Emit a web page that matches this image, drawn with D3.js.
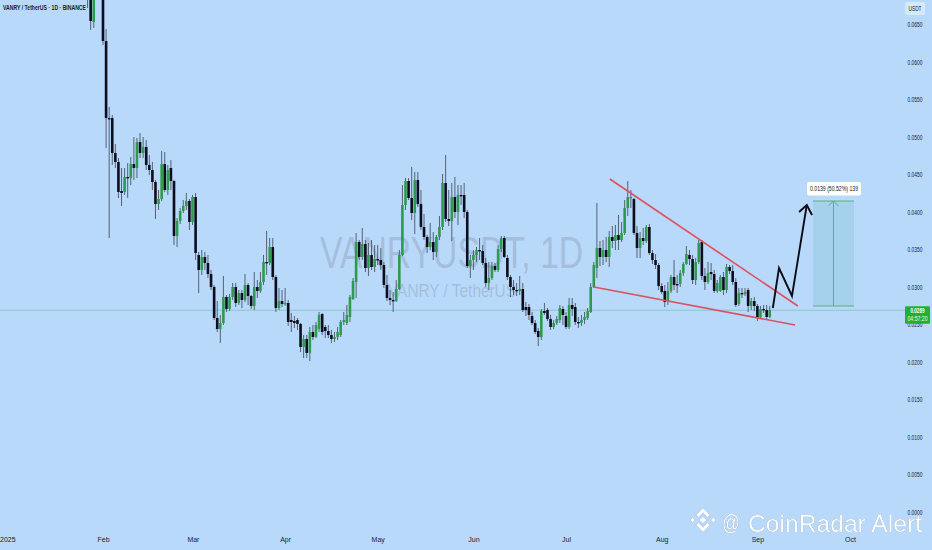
<!DOCTYPE html>
<html><head><meta charset="utf-8">
<script src="https://cdn.jsdelivr.net/npm/d3@7/dist/d3.min.js"></script>
<style>html,body{margin:0;padding:0;background:#b9d9fb;overflow:hidden}svg{display:block}text{font-family:"Liberation Sans",Arial,sans-serif}</style>
</head><body><svg id="c" width="932" height="550"></svg>
<script>
// Daily candles, first one is 27 Jan 2025 (offset -5 from 1 Feb)
const firstOffset = -5;
const opens = [.07227,.07227,.06533,.07027,.0716,.07027,
.0628,.05253,.05253,.04787,.04667,.0428,.04267,.04467,.04453,.0464,
.04587,.04933,.04787,.04867,.04627,.0456,.044,.04107,.04173,.0464,
.04293,.04587,.04413,.0368,.0388,.04013,.0408,.04147,.03867,.042,
.03427,.03227,.034,.0332,.03173,.03,.02587,.0244,.0252,.02867,
.02707,.02867,.03,.02787,.0292,.02827,.03027,.0288,.02747,.03,
.02947,.03067,.03333,.0332,.03533,.03133,.0272,.02813,.02773,.02787,
.0256,.02547,.0256,.02507,.022,.02307,.0212,.024,.02333,.0244,
.0264,.02467,.02413,.0236,.02307,.02333,.0236,.02533,.0252,.026,
.0284,.03067,.036,.034,.03573,.03253,.03427,.03267,.03373,.0336,
.03293,.03027,.02853,.02827,.02813,.02973,.03427,.04093,.04413,.04187,
.03987,.04427,.04107,.038,.03667,.03533,.036,.03467,.03667,.038,
.04387,.03907,.0388,.042,.04,.04227,.04227,.04,.0328,.0336,
.03427,.03493,.0348,.0332,.03053,.0312,.0328,.03227,.03507,.03653,
.03387,.03133,.03,.0296,.02947,.02973,.02733,.02733,.02613,.0252,
.02413,.02333,.0268,.02693,.02573,.02467,.0252,.0256,.02707,.02613,
.02467,.0276,.02733,.02533,.0252,.0256,.02587,.02667,.03,.03253,
.0352,.034,.03493,.034,.03667,.03613,.03693,.03627,.0372,.04053,
.04187,.04173,.0372,.0352,.03653,.03613,.038,.03453,.0336,.03293,
.03013,.02947,.02813,.02947,.03133,.0304,.0304,.03187,.03307,.03427,
.03373,.03093,.03333,.036,.03147,.03067,.032,.03173,.02947,.02947,
.03133,.0296,.03267,.03213,.03067,.02773,.0292,.02907,.0296,.02747,
.02813,.02747,.026,.02707,.02693,.026];
const highs = [.0736,.0736,.0736,.0736,.0736,.0716,
.0644,.054,.05293,.04907,.0472,.04587,.04587,.04653,.04733,.05,
.04987,.05053,.05,.0496,.0476,.04667,.04427,.04293,.04813,.048,
.04627,.04693,.04427,.0392,.04053,.0416,.04253,.04173,.04227,.04253,
.03467,.03493,.03467,.03427,.03227,.03027,.02813,.02627,.03147,.02893,
.02907,.03053,.03053,.0296,.0296,.03173,.03053,.02893,.032,.03093,
.032,.03427,.03747,.03653,.03653,.0316,.02987,.0296,.02987,.02827,
.02653,.02613,.02587,.0252,.0236,.0236,.02467,.02493,.02533,.02667,
.02653,.02493,.02493,.02427,.024,.02467,.0256,.02667,.0276,.02893,
.0312,.0372,.03627,.03787,.03627,.03587,.03627,.0356,.0356,.0352,
.03333,.0316,.0296,.02933,.03093,.03493,.0436,.04453,.04453,.046,
.04533,.04533,.04293,.03973,.03693,.03853,.03733,.03693,.03947,.04507,
.0476,.04293,.04387,.04467,.0436,.0436,.04387,.04027,.03427,.03493,
.03533,.03653,.0356,.03387,.03333,.03333,.0332,.0356,.0368,.0368,
.03427,.0316,.03093,.03053,.03147,.03053,.028,.02773,.02667,.0256,
.02453,.02707,.02787,.0272,.02627,.0256,.02613,.0276,.02747,.02667,
.02853,.02853,.02787,.026,.02627,.02667,.0272,.03053,.03333,.0412,
.03613,.03627,.03667,.03747,.03813,.03827,.0396,.03867,.0416,.04413,
.04293,.04187,.03813,.03733,.03787,.03827,.0384,.03493,.0344,.0332,
.03053,.03027,.03067,.0316,.0336,.0316,.03227,.03333,.03547,.03493,
.03427,.03387,.03627,.03627,.03253,.03333,.0332,.03227,.03093,.0316,
.032,.03307,.03293,.03293,.0312,.02987,.02987,.02987,.02987,.02853,
.02867,.02773,.02747,.0276,.0276,.02747];
const lows = [.0672,.06427,.06453,.06893,.06893,.06227,
.04853,.03653,.04627,.04587,.04187,.0408,.04227,.04187,.0436,.04427,
.04453,.0472,.0472,.0456,.04493,.04293,.03907,.04027,.04147,.04267,
.04227,.04293,.0356,.03533,.0384,.03987,.04027,.0376,.03827,.0336,
.0292,.0316,.03227,.0312,.0296,.0256,.024,.02253,.02493,.02667,
.0268,.02827,.02733,.0276,.0272,.028,.0276,.02707,.02693,.02853,
.0292,.03027,.0316,.03293,.03093,.02667,.02693,.02733,.02747,.0248,
.024,.02453,.02427,.02133,.02053,.02053,.02013,.02293,.0232,.024,
.0236,.0232,.0232,.02253,.02267,.02293,.02333,.02493,.02493,.02533,
.02827,.02853,.0336,.0336,.032,.03147,.03227,.032,.03293,.03227,
.02987,.02813,.0276,.02667,.028,.0296,.03413,.04027,.0416,.03893,
.03707,.04067,.0376,.03627,.03453,.03493,.0336,.034,.03627,.0376,
.03867,.03813,.03613,.0392,.03827,.04093,.0392,.03253,.0312,.03227,
.03333,.0336,.03293,.03,.0296,.03093,.032,.032,.03467,.03387,
.03093,.02867,.02893,.0288,.02893,.02667,.02613,.0256,.02493,.02373,
.02213,.02293,.02627,.02547,.02427,.0244,.02493,.0252,.02493,.0244,
.0244,.02613,.02493,.02453,.0248,.02507,.0256,.02653,.02987,.0312,
.0328,.03293,.03333,.03267,.0352,.03493,.03493,.036,.03693,.03947,
.04053,.03693,.03387,.03387,.0356,.03587,.03427,.03307,.0324,.0296,
.02907,.02733,.0276,.0292,.0296,.0292,.03,.03147,.03293,.03293,
.0304,.03027,.03307,.03093,.0296,.0304,.03093,.0292,.0292,.02933,
.02893,.0292,.03173,.03027,.02733,.02747,.02853,.0288,.02667,.02693,
.0268,.02547,.02587,.02653,.02573,.02587];
const closes = [.0696,.06547,.07027,.0716,.07027,.0628,
.05253,.0524,.04787,.04667,.04267,.04253,.04467,.04453,.0464,.04587,
.04933,.04787,.04867,.04627,.0456,.044,.04107,.04173,.0464,.04293,
.0456,.04413,.0368,.0388,.04013,.0408,.04147,.03867,.042,.03453,
.03227,.034,.0332,.03173,.03,.02587,.0244,.0252,.02867,.02707,
.02867,.03,.02787,.0292,.02827,.03027,.0288,.02747,.03,.02947,
.03067,.03333,.0332,.03533,.03133,.0272,.02813,.02773,.02787,.02533,
.02533,.0252,.02507,.022,.02307,.0212,.024,.02333,.02493,.02627,
.024,.02413,.0236,.02307,.02333,.024,.02533,.0256,.02627,.02867,
.0308,.036,.034,.03573,.03253,.03427,.03267,.03373,.0336,.03293,
.03027,.02853,.02827,.02813,.02973,.03427,.04093,.04413,.04187,.03987,
.04427,.04107,.038,.03667,.03533,.036,.03467,.03667,.038,.04387,
.03907,.0388,.042,.04,.04227,.04213,.04,.0328,.0336,.03427,
.03493,.0348,.0332,.03053,.0312,.0328,.03227,.03507,.03653,.034,
.03133,.03,.0296,.02947,.02973,.02693,.02693,.02627,.0252,.024,
.02333,.0268,.02653,.02573,.02467,.0252,.02573,.0272,.02627,.02467,
.0276,.02707,.02533,.0252,.0256,.026,.0268,.03,.03293,.0352,
.034,.03493,.034,.03667,.03613,.03693,.03627,.0372,.04053,.042,
.042,.0372,.0352,.03653,.03613,.038,.03453,.0336,.03293,.03013,
.02933,.028,.02947,.03133,.03027,.03027,.03187,.03307,.0344,.03373,
.03093,.03333,.03587,.03147,.03067,.03187,.03173,.02947,.03053,.03133,
.0296,.03267,.03213,.03067,.0276,.0292,.02907,.02933,.02747,.02813,
.02747,.026,.02707,.02693,.026,.02693];

const priceTicks = [0,.005,.01,.015,.02,.025,.03,.035,.04,.045,.05,.055,.06,.065];
const monthLabels = ["2025","Feb","Mar","Apr","May","Jun","Jul","Aug","Sep","Oct"];
const monthStarts = [0,1,2,3,4,5,6,7,8,9];
const lastPrice = 0.0269;
const countdown = "04:57:20";

// Annotations: [days after 1 Feb, price]
const upperTrend = [[164.2,.0444],[225.1,.02747]];
const lowerTrend = [[159,.03],[224.2,.02493]];
const projection = [[217,.0272],[219,.03253],[223.2,.0288],[228,.04093]];
const arrowHead = [[225.5,.04],[228,.04093],[229.7,.0396]];
const targetDays = [230,243.3];
const targetPrices = [.02747,.04147];
const targetLabel = "0.0139 (50.52%) 139";

const DAY = 864e5, FEB1 = Date.UTC(2025,1,1);
const dt = d => new Date(FEB1 + d*DAY);
const x = d3.scaleUtc().domain([new Date(Date.UTC(2025,1,1)), new Date(Date.UTC(2025,9,1))]).range([103,850]);
const y = d3.scaleLinear().domain([0,.065]).range([512,24.5]);
const svg = d3.select("#c");
const INK="#12151f", UP="#2f9a4e", DOWN="#0a0d1c", WICK="#4a5366";

svg.append("rect").attr("width",932).attr("height",550).attr("fill","#b9d9fb");
svg.append("defs").append("filter").attr("id","soft").append("feGaussianBlur").attr("stdDeviation",.3);

// big watermark
const fit=(s,len)=>s.attr("textLength",len).attr("lengthAdjust","spacingAndGlyphs");
fit(svg.append("text").attr("x",320).attr("y",268).attr("font-size",44).attr("fill","#8fa3bd").attr("fill-opacity",.5).text("VANRYUSDT, 1D"),263);
fit(svg.append("text").attr("x",388).attr("y",297).attr("font-size",19).attr("fill","#8fa3bd").attr("fill-opacity",.5).text("VANRY / TetherUS"),128);

// last price line
svg.append("line").attr("x1",0).attr("x2",905).attr("y1",y(lastPrice)).attr("y2",y(lastPrice)).attr("stroke","#69bfa6").attr("stroke-width",1).attr("stroke-opacity",.6);

// candles
const candles = closes.map((c,i)=>({d:firstOffset+i,o:opens[i],h:highs[i],l:lows[i],c}));
const plot = svg.append("g").attr("filter","url(#soft)");
const gs = plot.selectAll("g.k").data(candles).join("g").attr("class","k");
gs.append("line").attr("x1",k=>x(dt(k.d))).attr("x2",k=>x(dt(k.d))).attr("y1",k=>y(k.h)).attr("y2",k=>y(k.l)).attr("stroke",WICK).attr("stroke-width",.9);
gs.append("rect").attr("x",k=>x(dt(k.d))-1.3).attr("width",2.6)
  .attr("y",k=>y(Math.max(k.o,k.c))).attr("height",k=>Math.max(1.4,Math.abs(y(k.o)-y(k.c))))
  .attr("fill",k=>k.c>=k.o?UP:DOWN);

// target box
const bx0=x(dt(targetDays[0])), bx1=x(dt(targetDays[1])), by0=y(targetPrices[1]), by1=y(targetPrices[0]), bm=(bx0+bx1)/2;
svg.append("rect").attr("x",bx0).attr("y",by0).attr("width",bx1-bx0).attr("height",by1-by0).attr("fill","#a5d1ec");
const G="#5fb07f";
[by0,by1].forEach(v=>svg.append("line").attr("x1",bx0).attr("x2",bx1).attr("y1",v).attr("y2",v).attr("stroke",G).attr("stroke-width",1.2));
svg.append("line").attr("x1",bm).attr("x2",bm).attr("y1",by0).attr("y2",by1).attr("stroke",G).attr("stroke-width",1);
svg.append("path").attr("d",`M${bm-5},${by0+5}L${bm},${by0}L${bm+5},${by0+5}`).attr("fill","none").attr("stroke",G).attr("stroke-width",1);

// trend lines and projection
const ln = d3.line().x(p=>x(dt(p[0]))).y(p=>y(p[1]));
[upperTrend,lowerTrend].forEach(t=>svg.append("path").attr("d",ln(t)).attr("fill","none").attr("stroke","#dc5060").attr("stroke-width",1.6));
[projection,arrowHead].forEach(t=>svg.append("path").attr("d",ln(t)).attr("fill","none").attr("stroke","#0b0d18").attr("stroke-width",1.9));

// target label
svg.append("rect").attr("x",807).attr("y",182).attr("width",54).attr("height",13.5).attr("rx",2).attr("fill","#fff");
fit(svg.append("text").attr("x",834).attr("y",191).attr("text-anchor","middle").attr("font-size",7).attr("fill",INK).text(targetLabel),48);

// axes
const yAxis = svg.append("g").call(d3.axisRight(y).tickValues(priceTicks).tickSize(0).tickFormat(d3.format(".4f")));
yAxis.select(".domain").remove();
yAxis.selectAll("text").attr("x",915).attr("dy","0.32em").attr("text-anchor","middle").attr("font-size",7).attr("font-family","Liberation Sans").attr("fill","#1a1d26").attr("textLength",15).attr("lengthAdjust","spacingAndGlyphs");

const xAxis = svg.append("g").attr("transform","translate(0,540)").call(
  d3.axisBottom(x).tickValues(monthStarts.map(m=>new Date(Date.UTC(2025,m,1)))).tickSize(0).tickFormat((_,i)=>monthLabels[i]));
xAxis.select(".domain").remove();
xAxis.selectAll("text").attr("y",0).attr("dy","0.32em").attr("dx",(_,i)=>i===2?3.5:0).attr("font-size",7).attr("font-family","Liberation Sans").attr("fill","#1a1d26");

// title
fit(svg.append("text").attr("x",3).attr("y",10).attr("font-size",7).attr("font-weight","bold").attr("fill","#1a1d26").text("VANRY / TetherUS · 1D · BINANCE"),83);

// USDT badge
svg.append("rect").attr("x",905).attr("y",2).attr("width",20).attr("height",13).attr("rx",2).attr("fill","#d6e8fb");
fit(svg.append("text").attr("x",915).attr("y",11).attr("text-anchor","middle").attr("font-size",7).attr("fill","#1a1d26").text("USDT"),13);

// last price tag
svg.append("rect").attr("x",905).attr("y",y(lastPrice)-4).attr("width",25).attr("height",17.5).attr("rx",1).attr("fill","#22b02e");
fit(svg.append("text").attr("x",917.5).attr("y",y(lastPrice)+3).attr("text-anchor","middle").attr("font-size",6.4).attr("font-weight","bold").attr("fill","#fff").text(d3.format(".4f")(lastPrice)),14);
fit(svg.append("text").attr("x",917.5).attr("y",y(lastPrice)+10.5).attr("text-anchor","middle").attr("font-size",6.4).attr("fill","#e8ffe8").text(countdown),20);

// branding
const brand = svg.append("g").attr("fill","#ffffff").style("filter","drop-shadow(0.6px 0.8px 0.6px rgba(60,80,110,.75))");
const logo = brand.append("g").attr("transform","translate(703,520)");
logo.append("path").attr("d","M0,-3.6L3.6,0L0,3.6L-3.6,0Z");
logo.append("path").attr("d","M-13,0L-10.4,-2.6L-7.8,0L-10.4,2.6ZM7.8,0L10.4,-2.6L13,0L10.4,2.6Z");
logo.append("path").attr("d","M0,-12L7,-5L4.6,-2.8L0,-7.4L-4.6,-2.8L-7,-5Z");
logo.append("path").attr("d","M0,12L7,5L4.6,2.8L0,7.4L-4.6,2.8L-7,5Z");
fit(brand.append("text").attr("x",722).attr("y",530).attr("font-size",22).text("@"),18);
fit(brand.append("text").attr("x",748).attr("y",532).attr("font-size",24).attr("font-family","Open Sans").text("CoinRadar Alert"),174);
</script></body></html>
